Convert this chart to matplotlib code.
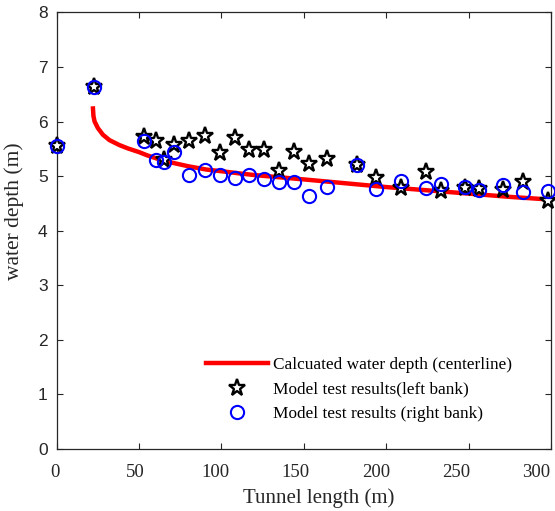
import numpy as np
import matplotlib as mpl
mpl.use('Agg')
import matplotlib.pyplot as plt
import matplotlib.transforms as mtransforms

# measuring points along the tunnel (m)
dist = [0, 22.5, 53, 60, 65, 71, 80, 90, 99, 108, 117, 126, 135, 144, 153,
        164, 182, 194, 209, 224, 233, 248, 256, 271, 283, 298]

# model test, left bank (stars)
left = [5.55, 6.63, 5.72, 5.65, 5.30, 5.57, 5.64, 5.73, 5.43, 5.70, 5.47,
        5.47, 5.09, 5.45, 5.22, 5.32, 5.21, 4.96, 4.79, 5.07, 4.73, 4.79,
        4.77, 4.74, 4.90, 4.54]

# model test, right bank (circles)
right = [5.55, 6.63, 5.65, 5.30, 5.25, 5.45, 5.03, 5.11, 5.03, 4.97, 5.03,
         4.95, 4.89, 4.90, 4.63, 4.80, 5.21, 4.77, 4.92, 4.78, 4.85, 4.80,
         4.74, 4.83, 4.71, 4.72]

# calculated centerline depth
calc_x = [22, 22.3, 23, 25, 28, 32, 38, 43, 50, 55, 63, 71, 80, 91, 100, 111,
          120, 135, 150, 175, 200, 225, 250, 275, 300]
calc_y = [6.24, 6.10, 6.00, 5.88, 5.76, 5.66, 5.57, 5.51, 5.44, 5.38, 5.30,
          5.24, 5.18, 5.12, 5.09, 5.05, 5.02, 4.98, 4.94, 4.87, 4.80, 4.74,
          4.68, 4.62, 4.57]

serif = 'Liberation Serif'
sans = 'Liberation Sans'
dark = '#262626'

fig = plt.figure(figsize=(5.55, 5.11), dpi=100)
ax = fig.add_axes([0.1022, 0.1213, 0.8906, 0.8544])

ax.plot(calc_x, calc_y, color='#ff0000', lw=3.2,
        label='Calcuated water depth (centerline)')
ax.plot(dist, left, ls='none', marker='*', ms=12.5, mfc='white', mec='black',
        mew=1.7, clip_on=False, zorder=3, label='Model test results(left bank)')
ax.plot(dist, right, ls='none', marker='o', ms=9.5, mfc='none', mec='#0000ff',
        mew=1.5, clip_on=False, zorder=4, label='Model test results (right bank)')

ax.set_xlim(0, 300)
ax.set_ylim(0, 8)
ax.set_xticks(np.arange(0, 301, 50))
ax.set_yticks(np.arange(0, 9, 1))
ax.tick_params(direction='in', top=True, right=True, length=4, width=0.8,
               colors=dark)
ax.tick_params(axis='x', pad=11)
ax.tick_params(axis='y', pad=6.5)
for k, lab in enumerate(ax.get_xticklabels()):
    lab.set_fontfamily(serif)
    lab.set_fontsize(13.5)
    # labels in the source sit a bit left of their ticks, more so to the right
    shift = -(1.4 + 1.5 * k) / 72.0
    lab.set_transform(lab.get_transform() +
                      mtransforms.ScaledTranslation(shift, 0, fig.dpi_scale_trans))
for lab in ax.get_yticklabels():
    lab.set_fontfamily(sans)
    lab.set_fontsize(12.5)
for s in ax.spines.values():
    s.set_color(dark)
    s.set_linewidth(0.9)

ax.set_xlabel('Tunnel length (m)', fontfamily=serif, fontsize=15, color=dark)
ax.set_ylabel('water depth (m)', fontfamily=serif, fontsize=15.5, color=dark)
ax.xaxis.set_label_coords(0.529, -0.091)
ax.yaxis.set_label_coords(-0.066, 0.545)

leg = ax.legend(loc='lower right', bbox_to_anchor=(0.921, 0.061), frameon=False,
                prop={'family': serif, 'size': 12.4}, handlelength=3.6,
                labelspacing=0.5, handletextpad=0.3, borderpad=0,
                borderaxespad=0)

fig.savefig('out.png', dpi=100)
